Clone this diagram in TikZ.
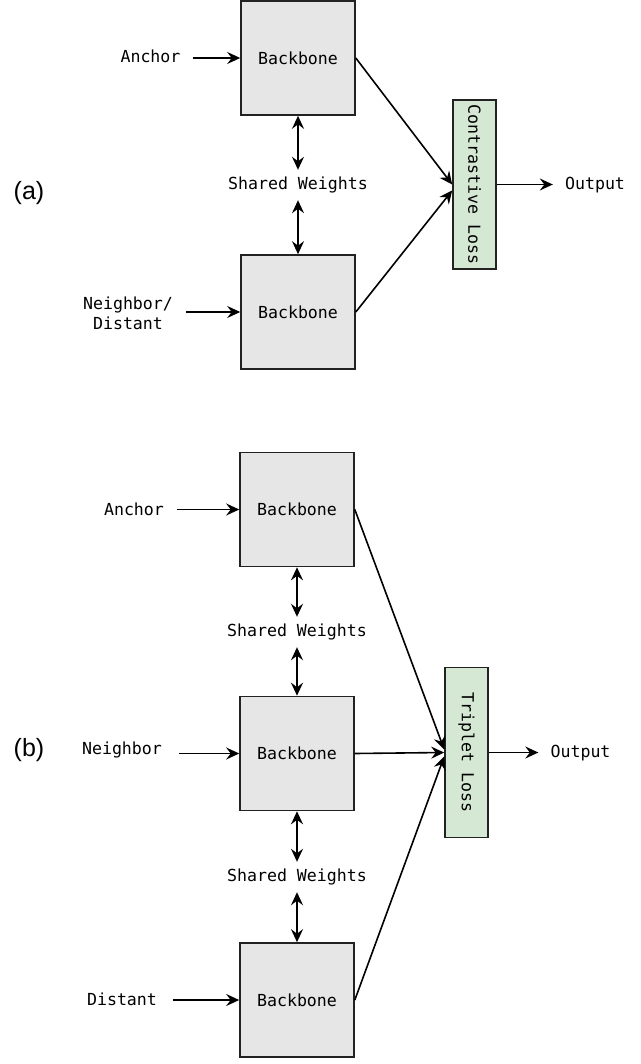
\documentclass[tikz,border=0pt]{standalone}
\usepackage{fontspec}
\usepackage{graphicx}
\setmonofont{DejaVu Sans Mono}
\newfontfamily\labfont{Liberation Sans}
\usetikzlibrary{arrows.meta}
\definecolor{boxgray}{HTML}{E6E6E6}
\definecolor{lossgreen}{HTML}{D5E8D4}
\definecolor{edgecol}{HTML}{222222}
\tikzset{
  txt/.style={inner sep=0pt, font=\ttfamily\fontsize{16.6}{20}\selectfont},
  bbox/.style={draw=edgecol, fill=boxgray, line width=1.6pt, minimum width=114pt, minimum height=114pt, inner sep=0pt, font=\ttfamily\fontsize{16.6}{20}\selectfont},
  lossbox/.style={draw=edgecol, fill=lossgreen, line width=1.6pt, minimum width=43pt, inner sep=0pt, font=\ttfamily\fontsize{16.6}{20}\selectfont},
  swlbl/.style={txt, minimum height=30pt},
  panel/.style={inner sep=0pt, font=\labfont\fontsize{25}{30}\selectfont},
  tipb/.tip={Stealth[length=13pt,width=12pt,inset=4.5pt]},
  arr/.style={-tipb, line width=1.6pt},
  darr/.style={tipb-tipb, line width=1.6pt},
}
\begin{document}
\begin{tikzpicture}[x=1pt,y=-1pt]
\useasboundingbox (0,0) rectangle (640,1064);

% ---------- (a) ----------
\node[panel] (pa) at (29,193) {(a)};
\node[bbox] (A1) at (298,58) {Backbone};
\node[swlbl] (SWa) at (298,185) {Shared Weights};
\node[bbox] (A2) at (298,312) {Backbone};
\node[lossbox, minimum height=169pt] (La) at (474.5,184.5) {\rotatebox{-90}{Contrastive Loss}};
\node[txt] (anca) at (150.5,56) {Anchor};
\node[txt, align=center] (nda) at (128,313) {Neighbor/\\Distant};
\node[txt] (outa) at (595,185) {Output};

\draw[arr, shorten <=12pt] (anca.east |- A1.west) -- (A1.west);
\draw[arr, shorten <=13pt] (nda.east |- A2.west) -- (A2.west);
\draw[darr] (A1.south) -- (SWa.north);
\draw[darr] (SWa.south) -- (A2.north);
\draw[arr] (A1.east) -- (La.west);
\draw[arr] (A2.east) -- ([yshift=-6pt]La.west);
\draw[arr, shorten >=12pt] (La.east) -- (La.east -| outa.west);

% ---------- (b) ----------
\node[panel] (pb) at (29,750) {(b)};
\node[bbox] (B1) at (297,509.5) {Backbone};
\node[swlbl] (SWb1) at (297,632) {Shared Weights};
\node[bbox] (B2) at (297,753.5) {Backbone};
\node[swlbl] (SWb2) at (297,877) {Shared Weights};
\node[bbox] (B3) at (297,1000) {Backbone};
\node[lossbox, minimum height=170pt] (Lb) at (466.5,752.5) {\rotatebox{-90}{Triplet Loss}};
\node[txt] (ancb) at (134,509) {Anchor};
\node[txt] (neib) at (122,750) {Neighbor};
\node[txt] (disb) at (122,999) {Distant};
\node[txt] (outb) at (580.5,753) {Output};

\draw[arr, shorten <=13pt] (ancb.east |- B1.west) -- (B1.west);
\draw[arr, shorten <=17pt] (neib.east |- B2.west) -- (B2.west);
\draw[arr, shorten <=16pt] (disb.east |- B3.west) -- (B3.west);
\draw[darr] (B1.south) -- (SWb1.north);
\draw[darr] (SWb1.south) -- (B2.north);
\draw[darr] (B2.south) -- (SWb2.north);
\draw[darr] (SWb2.south) -- (B3.north);
\draw[arr] (B1.east) -- ([yshift=3pt]Lb.west);
\draw[arr] (B2.east) -- ([yshift=0pt]Lb.west);
\draw[arr] (B3.east) -- ([yshift=-4pt]Lb.west);
\draw[arr, shorten >=12pt] (Lb.east) -- (Lb.east -| outb.west);
\end{tikzpicture}
\end{document}
